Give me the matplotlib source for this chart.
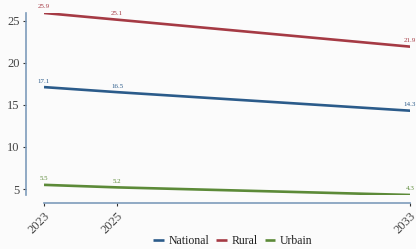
import matplotlib
matplotlib.use("Agg")
from matplotlib import pyplot as plt

years = [2023, 2025, 2033]
national = [17.1, 16.5, 14.3]
rural = [25.9, 25.1, 21.9]
urbain = [5.5, 5.2, 4.3]
series_names = ["National", "Rural", "Urbain"]
y_ticks = [5, 10, 15, 20, 25]

colors = ["#2b5b8a", "#a53a44", "#5c8a38"]
spine_color = "#7e9bbb"
text_color = "#444444"

plt.rcParams["font.family"] = ["Liberation Serif", "DejaVu Serif"]

fig = plt.figure(figsize=(4.16, 2.49), dpi=100, facecolor="#fbfbfb")
ax = fig.add_axes([0.1058, 0.217, 0.88, 0.731], facecolor="#fbfbfb")

# spines first: set_position resets the ticks
for side in ["top", "right"]:
    ax.spines[side].set_visible(False)
ax.spines["left"].set_position(("outward", 13))
ax.spines["bottom"].set_position(("outward", 6))
for side in ["left", "bottom"]:
    ax.spines[side].set_color(spine_color)
    ax.spines[side].set_linewidth(1.2)

for name, values, color in zip(series_names, [national, rural, urbain], colors):
    ax.plot(years, values, color=color, lw=1.9, label=name, solid_capstyle="butt")
    for x, y in zip(years, values):
        ax.annotate(f"{y:.1f}", (x, y), xytext=(0, 2.5), textcoords="offset points",
                    ha="center", va="bottom", fontsize=5, color=color,
                    annotation_clip=False)

ax.set_xlim(2023, 2033)
ax.set_ylim(4.3, 25.9)
ax.set_xticks(years)
ax.set_yticks(y_ticks)
ax.set_xticklabels([str(y) for y in years], rotation=45, ha="right",
                   rotation_mode="anchor", fontsize=9, color=text_color)
ax.set_yticklabels([str(t) for t in y_ticks], fontsize=9, color=text_color)
ax.tick_params(length=2.5, width=0.8, color="#333333", pad=2)

fig.legend(loc="lower center", bbox_to_anchor=(0.56, -0.035), ncol=3, frameon=False,
           fontsize=8.5, handlelength=0.9, handletextpad=0.4, columnspacing=0.6,
           labelcolor="#222222")

fig.savefig("out.png", dpi=100, facecolor=fig.get_facecolor())
